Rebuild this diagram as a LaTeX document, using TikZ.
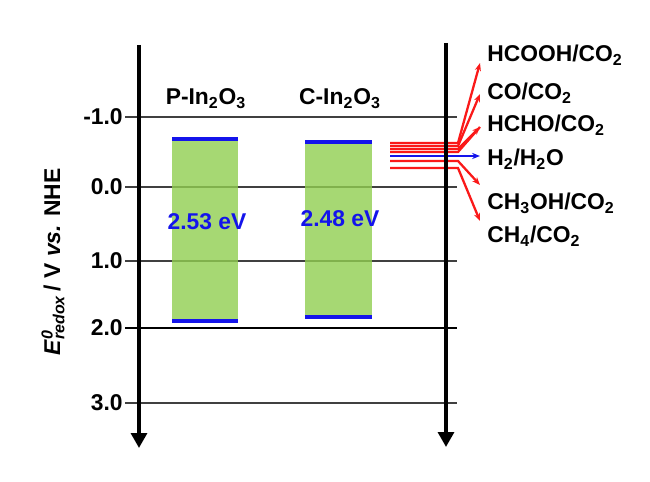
\documentclass[tikz,border=0pt]{standalone}
\usepackage{fontspec}
\setmainfont{Liberation Sans}
\usetikzlibrary{arrows.meta, positioning}
\definecolor{gapgreen}{RGB}{144,206,80}
\definecolor{edgeblue}{RGB}{20,20,235}
\definecolor{couplered}{RGB}{250,25,25}

\begin{document}
\begin{tikzpicture}[x=0.02cm, y=-0.02cm,
        every node/.style={font=\fontsize{13}{15}\selectfont\bfseries, inner sep=0pt},
        axis/.style={line width=2pt, -{Triangle[width=9pt, length=8.5pt]}},
        grid/.style={line width=1.1pt, black!75},
        gap/.style={fill=gapgreen, fill opacity=0.8},
        band/.style={line width=2.3pt, edgeblue},
        couple/.style={line width=1.3pt, couplered},
        tip/.style={-{Stealth[length=4.5pt, width=3.5pt]}},
        value/.style={text=edgeblue}]
        \useasboundingbox (0,0) rectangle (650,482);

        % potential scale
        \foreach \lab/\yy/\n in {-1.0/117/a, 0.0/187/b, 1.0/261/c, 3.0/403/e}{
            \node[anchor=east] (tick\n) at (123,\yy) {\lab};
            \draw[grid] (125,\yy) -- (457,\yy);
        }
        \node[anchor=east] (tickd) at (123,328) {2.0};
        \draw[line width=1.6pt] (125,328) -- (457,328);

        \node[rotate=90] (ylab) at (53,262)
            {\textit{E}\rlap{\textsuperscript{\textit{0}}}\textsubscript{\textit{redox}}\,/ V \textit{vs.} NHE};

        % band gaps
        \fill[gap] (172,139) rectangle (238,321);
        \draw[band] (172,139) -- (238,139);
        \draw[band] (172,321) -- (238,321);
        \fill[gap] (305,142) rectangle (372,317);
        \draw[band] (305,142) -- (372,142);
        \draw[band] (305,317) -- (372,317);

        \node (pin) at (206,99) {P-In\textsubscript{2}O\textsubscript{3}};
        \node (cin) at (340,99) {C-In\textsubscript{2}O\textsubscript{3}};
        \node[value] (pgap) at (207,222) {2.53 eV};
        \node[value] (cgap) at (340,219) {2.48 eV};

        % redox couples
        \node[anchor=base west] (hcooh) at (487,62) {HCOOH/CO\textsubscript{2}};
        \node[anchor=base west] (co) at (487,100) {CO/CO\textsubscript{2}};
        \node[anchor=base west] (hcho) at (487,132) {HCHO/CO\textsubscript{2}};
        \node[anchor=base west] (h2) at (487,166) {H\textsubscript{2}/H\textsubscript{2}O};
        \node[anchor=base west] (meoh) at (487,210) {CH\textsubscript{3}OH/CO\textsubscript{2}};
        \node[anchor=base west] (ch4) at (487,243) {CH\textsubscript{4}/CO\textsubscript{2}};

        \foreach \n/\ys/\yt in {hcooh/143/63, co/146/94, hcho/149/127, meoh/161/185, ch4/168/221}{
            \coordinate (\n-s) at (458,\ys);
            \coordinate (\n-t) at (480,\yt);
            \draw[couple, tip] (390,\ys) -- (\n-s) -- (\n-t);
        }
        \draw[couple] (390,152) -- (458,152) -- (hcho-t);
        \coordinate (h2-t) at (480,156);
        \draw[edgeblue, line width=1.4pt, tip] (390,156) -- (h2-t);

        % axes
        \coordinate (ltop) at (139,45);
        \coordinate (lbot) at (139,448);
        \coordinate (rtop) at (446,43);
        \coordinate (rbot) at (446,447);
        \draw[axis] (ltop) -- (lbot);
        \draw[axis] (rtop) -- (rbot);
    \end{tikzpicture}
\end{document}
